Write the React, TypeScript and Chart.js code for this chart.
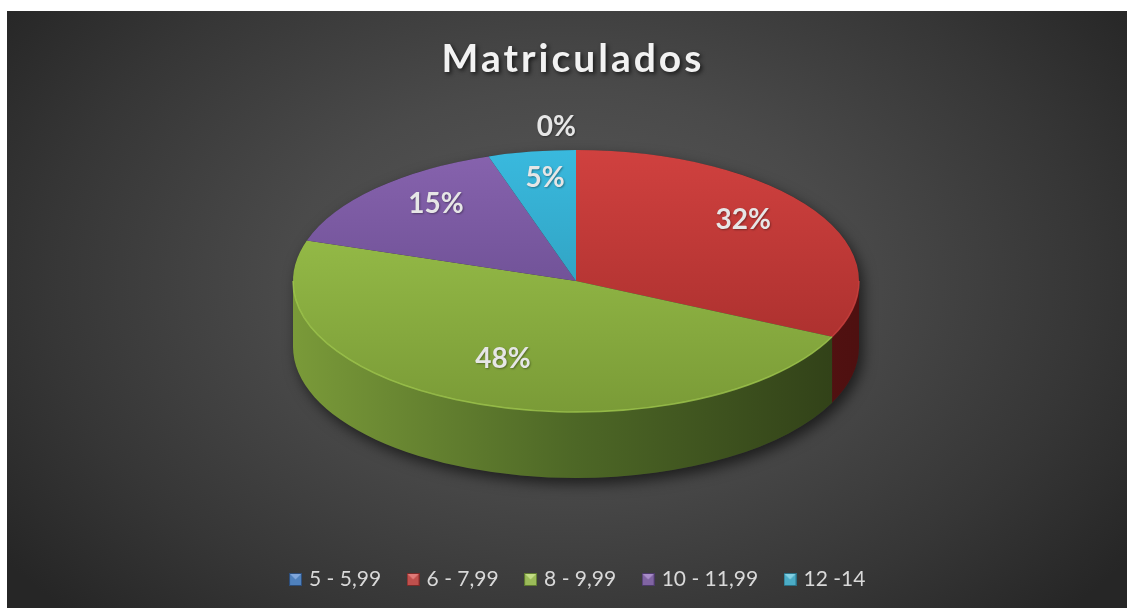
import React, { useEffect, useRef } from 'react';
import { Chart, registerables } from 'chart.js';

Chart.register(...registerables);

// ---- data ----
const titleText = 'Matriculados';
const categories = ['5 - 5,99', '6 - 7,99', '8 - 9,99', '10 - 11,99', '12 -14'];
const values = [0, 32, 48, 15, 5];

// ---- styles ----
const topLight = ['#5a8dd0', '#d0413f', '#a0c84e', '#8763ae', '#39b9de'];
const topDark = ['#3d6aa6', '#a02b29', '#7a9b37', '#5c4383', '#2a90ab'];
const sideStops = [
  ['#3d6aa6', '#2c4f7d', '#1f3858'],
  ['#8a2321', '#6a1817', '#4e1010'],
  ['#7a9a39', '#4d6726', '#2f3e17'],
  ['#5c4383', '#44305f', '#2e2042'],
  ['#2a90ab', '#1f6c80', '#164d5c'],
];
const legendColors = ['#4f81bd', '#c0504d', '#9bbb59', '#8064a2', '#4bacc6'];
const legendDark = ['#2c4d7a', '#7a2a28', '#5e7a30', '#4d3a6a', '#2a7085'];
const legendLight = ['#7fa6db', '#e07a78', '#c2dc84', '#a88cc8', '#82cfe2'];

const W = 1120;
const H = 597;
const CX = 569;
const CY = 270;
const RX = 283;
const RY = 131;
const DEPTH = 66;
const LABEL_CY = CY - 10;

function makeMarker(i: number) {
  const c = document.createElement('canvas');
  c.width = 13;
  c.height = 13;
  const g = c.getContext('2d')!;
  g.fillStyle = legendDark[i];
  g.fillRect(0, 0, 13, 13);
  g.fillStyle = legendColors[i];
  g.fillRect(1, 1, 11, 11);
  g.fillStyle = legendLight[i];
  g.beginPath();
  g.moveTo(1, 1);
  g.lineTo(12, 1);
  g.lineTo(6.5, 6.5);
  g.closePath();
  g.fill();
  return c;
}

const pie3d = {
  id: 'pie3d',
  beforeDraw(chart: any) {
    const ctx = chart.ctx;
    ctx.save();
    ctx.font = 'bold 39px Lato';
    (ctx as any).letterSpacing = '3px';
    ctx.textAlign = 'center';
    ctx.textBaseline = 'alphabetic';
    ctx.shadowColor = 'rgba(0,0,0,0.65)';
    ctx.shadowBlur = 4;
    ctx.shadowOffsetX = 2;
    ctx.shadowOffsetY = 2;
    ctx.fillStyle = '#f2f2f2';
    ctx.fillText(titleText, 566, 61);
    ctx.restore();
  },
  beforeDatasetsDraw(chart: any) {
    const ctx = chart.ctx;
    const meta = chart.getDatasetMeta(0);
    const arcs = meta.data;
    if (!arcs.length) return;
    // silhouette with shadow
    ctx.save();
    ctx.shadowColor = 'rgba(0,0,0,0.6)';
    ctx.shadowBlur = 14;
    ctx.shadowOffsetX = 4;
    ctx.shadowOffsetY = 6;
    ctx.fillStyle = '#303030';
    ctx.beginPath();
    ctx.ellipse(CX, CY, RX, RY, 0, Math.PI, 2 * Math.PI);
    ctx.lineTo(CX + RX, CY + DEPTH);
    ctx.ellipse(CX, CY + DEPTH, RX, RY, 0, 0, Math.PI);
    ctx.closePath();
    ctx.fill();
    ctx.restore();
    // front side walls
    for (let i = 0; i < arcs.length; i++) {
      if (values[i] <= 0) continue;
      const a = arcs[i];
      const s = Math.max(a.startAngle, 0);
      const e = Math.min(a.endAngle, Math.PI);
      if (e <= s) continue;
      const g = ctx.createLinearGradient(CX - RX, 0, CX + RX, 0);
      g.addColorStop(0, sideStops[i][0]);
      g.addColorStop(0.5, sideStops[i][1]);
      g.addColorStop(1, sideStops[i][2]);
      ctx.save();
      ctx.fillStyle = g;
      ctx.beginPath();
      ctx.ellipse(CX, CY, RX, RY, 0, s, e);
      ctx.lineTo(CX + RX * Math.cos(e), CY + DEPTH + RY * Math.sin(e));
      ctx.ellipse(CX, CY + DEPTH, RX, RY, 0, e, s, true);
      ctx.closePath();
      ctx.fill();
      ctx.restore();
    }
    // map the library's circle onto the top ellipse
    const a0 = arcs[0];
    const R = a0.outerRadius;
    ctx.save();
    ctx.translate(CX, CY);
    ctx.scale(RX / R, RY / R);
    ctx.translate(-a0.x, -a0.y);
  },
  afterDatasetsDraw(chart: any) {
    const ctx = chart.ctx;
    const meta = chart.getDatasetMeta(0);
    const arcs = meta.data;
    if (!arcs.length) return;
    ctx.restore();
    // rim highlight on front edge
    for (let i = 0; i < arcs.length; i++) {
      if (values[i] <= 0) continue;
      const a = arcs[i];
      const s = Math.max(a.startAngle, 0);
      const e = Math.min(a.endAngle, Math.PI);
      if (e <= s) continue;
      ctx.save();
      ctx.strokeStyle = topLight[i];
      ctx.globalAlpha = 0.8;
      ctx.lineWidth = 1.5;
      ctx.beginPath();
      ctx.ellipse(CX, CY, RX, RY, 0, s, e);
      ctx.stroke();
      ctx.restore();
    }
    // percentage labels
    const total = values.reduce((p, v) => p + v, 0);
    ctx.save();
    ctx.font = 'bold 28px Lato';
    ctx.fillStyle = '#e6e6e6';
    ctx.textBaseline = 'middle';
    ctx.shadowColor = 'rgba(0,0,0,0.35)';
    ctx.shadowBlur = 2;
    ctx.shadowOffsetX = 1;
    ctx.shadowOffsetY = 1;
    for (let i = 0; i < arcs.length; i++) {
      const a = arcs[i];
      const mid = (a.startAngle + a.endAngle) / 2;
      const pct = Math.round((values[i] / total) * 100) + '%';
      if (values[i] === 0) {
        ctx.textAlign = 'right';
        ctx.fillText(pct, CX + RX * 1.1 * Math.cos(mid), LABEL_CY + RY * 1.1 * Math.sin(mid));
      } else {
        ctx.textAlign = 'center';
        ctx.fillText(pct, CX + RX * 0.7 * Math.cos(mid), LABEL_CY + RY * 0.72 * Math.sin(mid));
      }
    }
    ctx.restore();
  },
};

function topGradient(c: any) {
  const chart = c.chart;
  const area = chart.chartArea;
  const i = c.dataIndex;
  if (!area) return topLight[i];
  const cy = (area.top + area.bottom) / 2;
  const r = Math.min(area.right - area.left, area.bottom - area.top) / 2;
  const g = chart.ctx.createLinearGradient(0, cy - r, 0, cy + r);
  g.addColorStop(0, topLight[i]);
  g.addColorStop(1, topDark[i]);
  return g;
}

export default function App() {
  const ref = useRef<HTMLCanvasElement>(null);
  useEffect(() => {
    const markers = categories.map((_, i) => makeMarker(i));
    const chart = new Chart(ref.current!, {
      type: 'pie',
      data: {
        labels: categories,
        datasets: [
          {
            data: values,
            backgroundColor: topGradient as any,
            borderWidth: 0,
            clip: false as any,
          },
        ],
      },
      plugins: [pie3d],
      options: {
        responsive: false,
        animation: false,
        events: [],
        layout: { padding: { top: 90, bottom: 8, left: 24, right: 0 } },
        plugins: {
          tooltip: { enabled: false },
          title: { display: false },
          legend: {
            display: true,
            position: 'bottom',
            labels: {
              color: '#d9d9d9',
              font: { family: 'Lato', size: 21 },
              usePointStyle: true,
              pointStyleWidth: 6,
              boxWidth: 12,
              boxHeight: 12,
              padding: 29,
              generateLabels: () =>
                categories.map((text, i) => ({
                  text,
                  fillStyle: legendColors[i],
                  strokeStyle: legendDark[i],
                  lineWidth: 0,
                  fontColor: '#d9d9d9',
                  pointStyle: markers[i],
                  hidden: false,
                  index: i,
                })),
            },
          },
        },
      } as any,
    });
    return () => chart.destroy();
  }, []);
  return (
    <div
      style={{
        position: 'absolute',
        left: 7,
        top: 11,
        width: W,
        height: H,
        background:
          'radial-gradient(ellipse 62% 80% at 50% 45%, #595959 0%, #4a4a4a 40%, #363636 75%, #262626 100%)',
      }}
    >
      <canvas ref={ref} width={W} height={H} style={{ display: 'block' }} />
    </div>
  );
}
